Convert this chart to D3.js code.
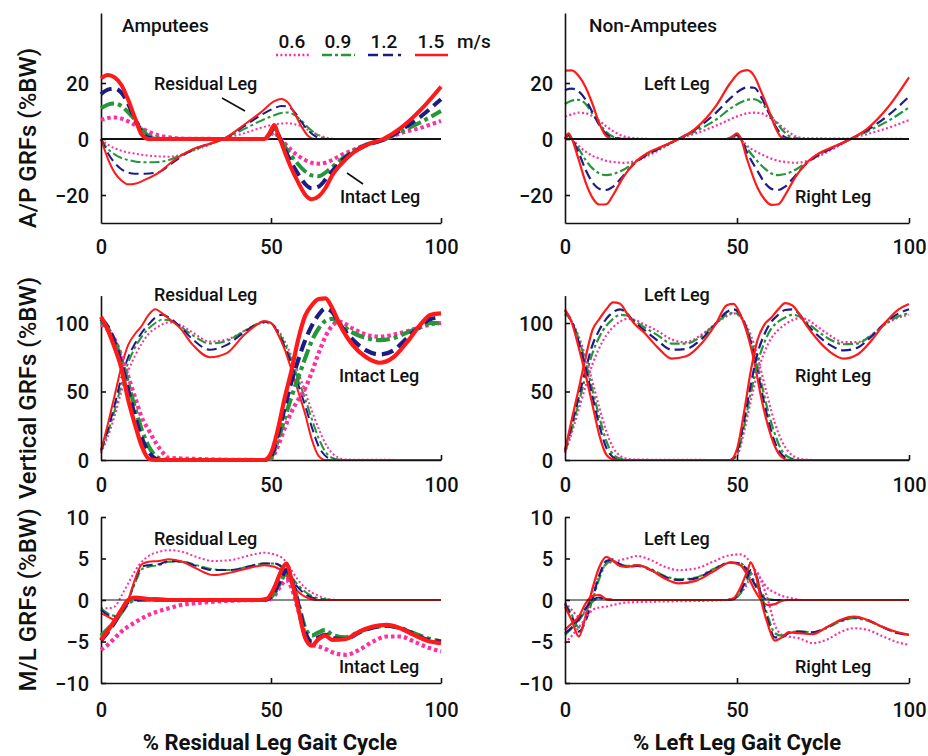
<!DOCTYPE html>
<html>
<head>
<meta charset="utf-8">
<script src="https://cdn.jsdelivr.net/npm/d3@7"></script>
<style>
  body { margin: 0; background: #fff; }
  text { font-family: Roboto, "Liberation Sans", Arial, sans-serif; fill: #111; }
</style>
</head>
<body>
<svg id="chart" width="928" height="756"></svg>
<script>
// ---- data, % gait cycle vs GRF ----
var speeds = ["0.6", "0.9", "1.2", "1.5"];

// A/P, amputees, residual leg
var apResX  = [0,2,4,6,8,10,13,17,20,23,27,31,36,42,47,51,53,55,57,59,61,63,65,67,69,100];
var apRes06 = [0,-2,-3.3,-4.2,-4.8,-5.2,-5.8,-6.2,-6.3,-5.8,-4.2,-2.5,0,2,4,5.2,5.5,5.6,5.3,4.5,3.2,2,1,0.3,0,0];
var apRes09 = [0,-3.5,-5.5,-6.8,-7.5,-8,-8.3,-8.2,-7.5,-6,-4,-2.2,0,3.5,6.5,8.5,9.3,9.5,8.5,6.5,4,2,0.5,0,0,0];
var apRes12 = [0,-5,-8.5,-10.8,-12,-12.4,-12.4,-11.8,-9.5,-6.8,-3.8,-2,0,4.5,8.5,11,11.8,11.6,9.5,6,3,1,0,0,0,0];
var apRes15 = [0,-7,-12,-14.8,-16.2,-16,-14.5,-12,-9,-6.3,-3.6,-2,0,5,9.5,13.5,14.3,13,9,4.4,1,0,0,0,0,0];
// A/P, amputees, intact leg
var apIntX  = [0,2,4,6,8,10,12,14,17,20,25,47,48,49.5,51,52,54,56,58,60,62,64,66,68,71,74,78,83,88,94,100];
var apInt06 = [6.8,7.5,7.7,7.3,6.3,5,3.8,2.6,1.3,0.6,0.1,0,0,1,2.5,1,-1.5,-4,-6,-7.5,-8.5,-8.8,-8.5,-7.5,-5.5,-4,-2,-0.3,2,4,6.5];
var apInt09 = [11,12.3,12.7,11.8,9.5,6.8,3.5,1.2,0.2,0,0,0,0,1.5,3.8,1.5,-2.5,-6,-9,-11.5,-13,-13.3,-12,-10,-7,-4.5,-2,-0.3,2.5,6,10];
var apInt12 = [16,17.6,18,16.5,12.5,7,2.5,0.5,0,0,0,0,0,1.8,4.5,2,-3.5,-8.5,-12.5,-16,-17.6,-17,-14.5,-11.5,-7.5,-4.8,-2.2,-0.3,3,8,14.2];
var apInt15 = [21.7,22.9,22,19.3,14,7.5,1.5,0,0,0,0,0,0,2,5,2,-4.5,-10.5,-15.5,-19.8,-21.5,-20.5,-17.5,-13,-8.5,-5.1,-2.2,0,3.8,10.4,18.7];
// A/P, non-amputees, left leg
var apLeftX  = [0,1,2,4,6,8,10,12,14,17,20,24,28,33,38,44,48,51,53,55,57,59,61,63,65,67,69,100];
var apLeft06 = [0,0.8,0,-2.5,-4.5,-6,-7,-7.8,-8.2,-8.5,-8,-6,-3.5,0,2,4.8,7,8.5,9.2,9.4,9.2,8,6.5,4.5,2.5,1,0.3,0];
var apLeft09 = [0,1.2,0,-3.5,-7.5,-10.5,-12.3,-12.9,-12.5,-11,-8.5,-5.5,-3,0,2.8,7,10.8,13,14,14.2,13,10,6.5,3.5,1.2,0.3,0,0];
var apLeft12 = [0,1.5,0,-5,-11,-15.5,-17.8,-18.2,-17,-13,-9,-5.5,-3,0,3.5,9.5,14.5,17.5,18.5,18.3,15,10,5,1.5,0.2,0,0,0];
var apLeft15 = [0,2,0,-7.5,-15.5,-21,-23.4,-23.3,-20,-13.5,-8.8,-5,-2.8,0,3.8,12,19.9,24,24.6,22.5,17,11,4.5,0.5,0,0,0,0];
// A/P, non-amputees, right leg
var apRightX  = [0,2,4,6,8,10,12,14,17,20,25,47,48.5,50,51,53,56,58,60,62,64,67,70,74,78,83,88,94,100];
var apRight06 = [8,8.8,9.4,9.2,8.2,6.5,4.5,2.8,1,0.3,0,0,0.3,0.8,0.1,-2.5,-4.8,-6,-7,-7.8,-8.2,-8.5,-8,-6,-3.5,0,1.8,4,6.8];
var apRight09 = [12.5,13.7,14,12.5,9,5.5,2.5,0.8,0.1,0,0,0,0.5,1.2,0.2,-3.5,-8,-10.5,-12.3,-12.9,-12.5,-11,-8.5,-5.5,-3,0,2.8,6.5,11.3];
var apRight12 = [17.5,18,17,14,9.5,5,1.8,0.4,0,0,0,0,0.6,1.5,0.3,-5,-11.5,-15.5,-17.8,-18.2,-17,-13,-9,-5.5,-3,0,3.3,8.5,15.1];
var apRight15 = [24.4,24.5,22.5,18.5,12.5,5.5,1,0,0,0,0,0,0.8,2,0.5,-7.5,-17.5,-21.5,-23.5,-23.3,-20,-13.5,-8.8,-5,-2.8,0,3.8,11.5,22];

// Vertical, amputees, residual leg
var vtResX  = [0,2,4,6,8,10,12,14,16,18,20,23,27,32,37,42,46,48,50,52,54,56,58,60,62,64,66,68,70,72,100];
var vtRes06 = [5,17,32,50,65,76,85,92,96,99,100.5,99,93,86.5,88,94,99,100,99.5,95,87,76,64,50,36,23,12,5,1.5,0.3,0];
var vtRes09 = [6,20,36,55,71,82,90,96,100,102.5,102,98,91,85,87,94,99.5,101,100,94,85,73,59,45,30,16,6,1.5,0.3,0,0];
var vtRes12 = [7,22,40,60,75,85,93,99,104,106,104,98,88,80.5,84,93,99.5,101,100,93,83,70,55,40,24,10,3,0.5,0,0,0];
var vtRes15 = [7.3,26,47,68,84,92,98,106,110,107,103,97,84,75,78,91,99,101.5,100,92,81,66,50,34,15,3,0,0,0,0,0];
// Vertical, amputees, intact leg
var vtIntX  = [0,2,4,6,8,10,12,14,16,18,20,47,48,50,52,54,56,58,60,62,64,66,68,70,74,78,82,86,90,94,97,100];
var vtInt06 = [99,95,88,76,61,46,31,22,13,6,1.5,0,0,1,10,23,35,44,52,64,78,90,98,101,96,91.5,90,91.5,94,97,99,100];
var vtInt09 = [101,96,87,73,56,38,22,10,3,0.5,0,0,0,2,14,30,46,60,74,87,96,101.5,103,100,93,89,87.5,89,93,97,100,100];
var vtInt12 = [103,97,86,70,51,32,16,6,1,0,0,0,0,3,18,38,57,73,87,98,106,110.5,108,100,88,80,77,80,89,98,103,104];
var vtInt15 = [104.6,95,82,67,44,26,10,1,0,0,0,0,0,5,22,45,65,88,105,113,117.5,118,111,100,84,75,71,75,86,99,106,107];
// Vertical, non-amputees, left leg
var vtLeftX  = [0,2,4,6,8,10,12,14,16,18,20,23,27,31,35,40,44,47,49,51,53,55,57,59,61,63,65,67,69,72,100];
var vtLeft06 = [5,20,37,54,70,82,91,97,101,103,102.5,99,94,88,86,92,100,105,107,104.5,97,84,65,45,27,14,6,2,0.5,0,0];
var vtLeft09 = [6,23,42,61,78,90,98,103,106,105.5,102,97,91,85,85,91,100,106,107.5,105,95,79,57,36,19,7,2,0.5,0,0,0];
var vtLeft12 = [7,26,46,66,84,95,103,108,110,107,101,95,87,80.5,81,89,100,108,110,106,94,76,52,30,13,4,0.5,0,0,0,0];
var vtLeft15 = [7,30,52,75,95,103,110,115,114,107,100,93,82,74,75.5,86,100,113,114,106,92,72,46,25,10,2,0,0,0,0,0];
// Vertical, non-amputees, right leg
var vtRightX  = [0,2,4,6,8,10,12,14,16,18,20,47,48,50,52,54,56,58,60,62,64,66,68,70,73,77,81,85,89,93,97,100];
var vtRight06 = [106,101,90,75,57,38,21,9,3,1,0.3,0,0,3,20,43,64,79,89,95,99,102,103.5,103,98,91,86,86,91,99,104,106];
var vtRight09 = [107,101,88,71,51,31,14,4,1,0,0,0,0,4,24,49,71,86,96,101,104,106,105,101,95,88,84.5,85,91,99,105,107];
var vtRight12 = [109,101,86,67,46,25,9,2,0,0,0,0,0,6,28,55,78,92,101,106,109.5,110,107,100,92,84,80,82,90,100,107,110];
var vtRight15 = [110,100,82,62,40,18,4,0.5,0,0,0,0,0,8,34,65,88,99,104,110,114.5,113,107,99,89,79,74,77,87,100,110,113.9];

// M/L, amputees, residual leg
var mlResX  = [0,2,4,6,8,10,12,14,17,20,24,28,33,38,43,48,51,54,56,58,60,62,64,66,68,70,100];
var mlRes06 = [-1,-1,-0.8,0.5,2,3.5,4.6,5.3,5.8,6,5.8,5.2,4.7,4.8,5.3,5.7,5.5,4.8,3.6,2.4,1.5,0.9,0.5,0.2,0.05,0,0];
var mlRes09 = [-1,-1.6,-1.9,-1.4,0,2,3.7,4,4.2,4.6,4.6,4.2,3.7,3.6,4,4.4,4.4,3.8,2.8,1.8,1,0.5,0.2,0.1,0,0,0];
var mlRes12 = [-1.2,-1.8,-2,-1.5,0,2.3,4,4.2,4.3,4.7,4.6,4.1,3.6,3.6,4,4.4,4.4,3.6,2.5,1.5,0.7,0.3,0.1,0,0,0,0];
var mlRes15 = [-1.6,-2,-2.4,-1.5,0,2.5,4.3,4.6,4.7,4.9,4.6,3.8,3.0,3.3,3.8,4.2,4.0,3.2,2,1,0.4,0.1,0,0,0,0,0];
// M/L, amputees, intact leg
var mlIntX  = [0,2,4,6,8,10,14,20,25,47,49,51,53,54.5,56,58,60,62,64,66,68,72,76,80,84,88,92,96,100];
var mlInt06 = [-6,-5.4,-4.6,-3.8,-3.2,-2.7,-1.8,-1,-0.5,0,0,0.5,1.8,2.4,1.5,-1.2,-4,-5.4,-5.6,-5.9,-6.3,-6.6,-6,-5,-4.4,-4.4,-5,-5.7,-6.2];
var mlInt09 = [-4.3,-3.5,-2.6,-1.5,-0.4,0,0.05,0,0,0,0.1,0.8,2.3,3.3,2.5,-0.3,-3.3,-4.3,-3.9,-3.6,-4.2,-4.5,-3.8,-3.3,-3.1,-3.4,-4,-4.6,-5];
var mlInt12 = [-4.9,-3.9,-2.7,-1.4,-0.2,0.1,0.1,0,0,0,0.1,1,2.6,3.6,2.6,-0.5,-3.8,-5,-4.5,-4.2,-4.6,-4.7,-3.9,-3.3,-3.1,-3.4,-4.1,-4.8,-5];
var mlInt15 = [-4.8,-3.7,-2.5,-1.2,0,0.3,0.1,0,0,0,0.2,1.5,3.5,4.4,2.5,-1,-4.5,-5.5,-4.7,-4.3,-4.8,-4.7,-3.8,-3.2,-3,-3.4,-4.2,-4.9,-5.2];
// M/L, non-amputees, left leg
var mlLeftX  = [0,2,4,6,8,10,12,14,16,18,21,25,29,33,38,43,48,51,53,55,57,59,61,63,65,67,69,100];
var mlLeft06 = [-0.3,-1.2,-2,-1.2,1,3,4.3,4.6,4.8,5,5.3,4.8,4,3.6,3.8,4.6,5.4,5.5,5,3.8,2.5,1.4,0.9,0.5,0.3,0.1,0,0];
var mlLeft09 = [-0.4,-1.8,-3.3,-2.4,0,2.6,4.4,4.7,4.3,4.1,4.2,3.7,2.9,2.5,2.7,3.7,4.5,4.4,3.7,2.3,0.9,0.1,0,0,0,0,0,0];
var mlLeft12 = [-0.5,-2,-3.8,-2.5,0.2,3,4.7,4.9,4.3,4,4.1,3.6,2.8,2.4,2.6,3.6,4.5,4.4,3.5,2,0.6,0,0,0,0,0,0,0];
var mlLeft15 = [-0.8,-2.5,-4.4,-1.9,1.4,4,5.2,4.7,4.1,4,4.2,3.6,2.6,2.0,2.3,3.4,4.5,4.2,3,1.3,0,-0.6,-0.5,-0.1,0,0,0,0];
// M/L, non-amputees, right leg
var mlRightX  = [0,2,4,6,8,10,12,14,18,47,49,51,53,54,55.5,57,59,61,63,65,68,72,76,80,84,88,92,96,100];
var mlRight06 = [-5.2,-4.3,-3.3,-2.2,-1.2,-0.9,-0.8,-0.6,-0.3,0,0.2,0.8,2,3,3.5,2.3,0,-3,-4.2,-4.4,-4.6,-5.2,-4.8,-3.9,-3.4,-3.6,-4.3,-5,-5.4];
var mlRight09 = [-4.2,-3.4,-2.5,-1.3,-0.2,0.2,0.1,0,0,0,0.1,0.8,2.4,3.3,3,0.8,-2,-4,-4.3,-3.9,-3.8,-3.9,-3.4,-2.6,-2.2,-2.5,-3.2,-3.9,-4.2];
var mlRight12 = [-4,-3.3,-2.3,-1,0,0.3,0.1,0,0,0,0.1,1,2.8,3.6,3,0.5,-2.5,-4.5,-4.5,-4,-3.8,-3.9,-3.3,-2.5,-2.1,-2.4,-3.2,-3.9,-4.2];
var mlRight15 = [-3.6,-2.8,-2,-0.4,0.5,0.6,0.1,0,0,0,0.2,1.5,3.5,4.5,3,0,-3,-4.9,-4.5,-3.9,-4,-4.1,-3.3,-2.4,-2,-2.4,-3.2,-3.8,-4.2];

// tick labels
var xTicks = [0, 50, 100];
var apTicks = [-20, 0, 20];
var vtTicks = [0, 50, 100];
var mlTicks = [-10, -5, 0, 5, 10];

// ---- styles ----
var speedColors = ["#ff2fa0", "#24973a", "#1c1c86", "#ff1a1a"];
var dashFor = function(i, w) {
    if (i === 0) return w > 3 ? "3.5,3" : "2,2.4";
    if (i === 1) return w > 3 ? "14,4,4,4" : "10,3,3,3";
    if (i === 2) return w > 3 ? "12,6" : "10,5";
    return null;
};

var svg = d3.select("#chart");

var cols = [{x0: 101, x1: 441}, {x0: 565, x1: 909}];
var rows = [
    {dom: [-30, 45], r0: 223, r1: 13, ticks: apTicks, zero: 2, xlab: 254},
    {dom: [0, 120], r0: 460, r1: 295.6, ticks: vtTicks, zero: 0, xlab: 492},
    {dom: [-10, 10], r0: 683, r1: 517, ticks: mlTicks, zero: 1.2, xlab: 717}
];

var panels = [
    {row: 0, col: 0, under: [apResX, [apRes06, apRes09, apRes12, apRes15], 2], over: [apIntX, [apInt06, apInt09, apInt12, apInt15], 4]},
    {row: 0, col: 1, under: [apLeftX, [apLeft06, apLeft09, apLeft12, apLeft15], 2.2], under2: [apRightX, [apRight06, apRight09, apRight12, apRight15], 2.2]},
    {row: 1, col: 0, under: [vtResX, [vtRes06, vtRes09, vtRes12, vtRes15], 2], over: [vtIntX, [vtInt06, vtInt09, vtInt12, vtInt15], 4.2]},
    {row: 1, col: 1, under: [vtLeftX, [vtLeft06, vtLeft09, vtLeft12, vtLeft15], 2.2], under2: [vtRightX, [vtRight06, vtRight09, vtRight12, vtRight15], 2.2]},
    {row: 2, col: 0, under: [mlResX, [mlRes06, mlRes09, mlRes12, mlRes15], 2], over: [mlIntX, [mlInt06, mlInt09, mlInt12, mlInt15], 4.2]},
    {row: 2, col: 1, under: [mlLeftX, [mlLeft06, mlLeft09, mlLeft12, mlLeft15], 2.2], under2: [mlRightX, [mlRight06, mlRight09, mlRight12, mlRight15], 2.2]}
];

var drawLeg = function(g, x, y, leg) {
    var xs = leg[0], w = leg[2];
    leg[1].forEach(function(vals, i) {
        var pts = xs.map(function(d, k) { return [d, vals[k]]; });
        g.append("path")
            .datum(pts)
            .attr("fill", "none")
            .attr("stroke", speedColors[i])
            .attr("stroke-width", w)
            .attr("stroke-dasharray", dashFor(i, w))
            .attr("stroke-linejoin", "round")
            .attr("d", d3.line()
                .x(function(d) { return x(d[0]); })
                .y(function(d) { return y(d[1]); })
                .curve(d3.curveMonotoneX));
    });
};

panels.forEach(function(p) {
    var c = cols[p.col], r = rows[p.row];
    var x = d3.scaleLinear().domain([0, 100]).range([c.x0, c.x1]);
    var y = d3.scaleLinear().domain(r.dom).range([r.r0, r.r1]);
    var g = svg.append("g");

    drawLeg(g, x, y, p.under);
    if (p.under2) drawLeg(g, x, y, p.under2);

    // zero reference line
    if (r.zero) {
        g.append("line")
            .attr("x1", x(0)).attr("x2", x(100))
            .attr("y1", y(0)).attr("y2", y(0))
            .attr("stroke", "#111")
            .attr("stroke-width", r.zero);
    }

    var yAxis = g.append("g")
        .attr("transform", "translate(" + c.x0 + ",0)")
        .call(d3.axisLeft(y).tickValues(r.ticks).tickSizeInner(-5).tickSizeOuter(0).tickPadding(12));
    var xAxis = g.append("g")
        .attr("transform", "translate(0," + r.r0 + ")")
        .call(d3.axisBottom(x).tickValues(xTicks).tickSizeInner(-5).tickSizeOuter(0).tickPadding(0));

    [yAxis, xAxis].forEach(function(a) {
        a.select(".domain").attr("stroke", "#111").attr("stroke-width", 1.6);
        a.selectAll(".tick line").attr("stroke", "#111").attr("stroke-width", 1.6);
        a.selectAll(".tick text").attr("font-size", 20).attr("fill", "#111")
            .style("font-family", "Roboto, 'Liberation Sans', Arial, sans-serif")
            .style("font-weight", 500);
    });
    yAxis.selectAll(".tick text").attr("dy", "0.36em");
    xAxis.selectAll(".tick text").attr("dy", null).attr("y", r.xlab - r.r0);
    xAxis.select(".tick line").remove();

    if (p.over) drawLeg(g, x, y, p.over);
});

// ---- text ----
var addText = function(txt, x, y, size, weight, anchor) {
    return svg.append("text")
        .attr("x", x).attr("y", y)
        .attr("font-size", size)
        .attr("font-weight", weight || "normal")
        .attr("text-anchor", anchor || "start")
        .text(txt);
};

addText("Amputees", 122, 32, 19, 500);
addText("Non-Amputees", 589, 32, 19, 500);

var legLabels = [
    ["Residual Leg", 154, 90], ["Intact Leg", 340, 203],
    ["Left Leg", 644, 90], ["Right Leg", 795, 203],
    ["Residual Leg", 154, 301], ["Intact Leg", 339, 382],
    ["Left Leg", 644, 301], ["Right Leg", 795, 382],
    ["Residual Leg", 154, 545], ["Intact Leg", 339, 673],
    ["Left Leg", 644, 545], ["Right Leg", 795, 673]
];
legLabels.forEach(function(l) { addText(l[0], l[1], l[2], 18, 500); });

// leader lines
svg.append("line").attr("x1", 222).attr("y1", 98).attr("x2", 245).attr("y2", 111)
    .attr("stroke", "#111").attr("stroke-width", 1.6);
svg.append("line").attr("x1", 347).attr("y1", 173).attr("x2", 363).attr("y2", 184)
    .attr("stroke", "#111").attr("stroke-width", 1.6);

// legend
var legendX = [276, 322, 368, 415];
speeds.forEach(function(s, i) {
    addText(s, legendX[i] + 16, 48, 19, 500, "middle");
    svg.append("line")
        .attr("x1", legendX[i]).attr("x2", legendX[i] + 33)
        .attr("y1", 55).attr("y2", 55)
        .attr("stroke", speedColors[i])
        .attr("stroke-width", 2.4)
        .attr("stroke-dasharray", dashFor(i, 2));
});
addText("m/s", 457, 48, 19, 500);

// axis titles
addText("% Residual Leg Gait Cycle", 270, 750, 22, "bold", "middle");
addText("% Left Leg Gait Cycle", 737, 750, 22, "bold", "middle");

[["A/P GRFs (%BW)", 138], ["Vertical GRFs (%BW)", 388], ["M/L GRFs (%BW)", 600]].forEach(function(t) {
    addText(t[0], 0, 0, 24, 500, "middle")
        .attr("transform", "translate(36," + t[1] + ") rotate(-90)");
});
</script>
</body>
</html>
